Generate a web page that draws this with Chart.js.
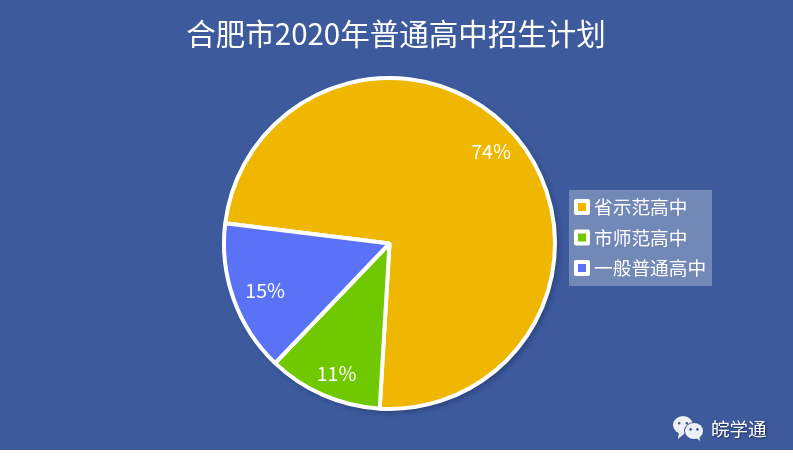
<!DOCTYPE html>
<html><head><meta charset="utf-8">
<script src="https://cdn.jsdelivr.net/npm/chart.js@4"></script>
<style>
html,body{margin:0;padding:0;background:#fff;overflow:hidden}
#wrap{position:relative;width:793px;height:450px;background:#3c5a9c}
canvas{position:absolute;left:0;top:0}
</style></head><body>
<div id="wrap"><canvas id="c" width="793" height="450"></canvas></div>
<script>
const titleText = "合肥市2020年普通高中招生计划";
const categories = ["省示范高中","市师范高中","一般普通高中"];
const values = [74,11.2,14.8];
const colors = ["#efb700","#70c800","#5a72f5"];
const watermark = "皖学通";
const FONT = '"Noto Sans CJK SC","Noto Sans",sans-serif';
const labelNudgeX = [-4,2,5];
const labelNudgeY = [-4,4,1];

const shadow = {
  id:'shadow',
  beforeDatasetsDraw(chart){
    const g=chart.ctx;g.save();
    g.shadowColor='rgba(10,20,60,0.3)';g.shadowBlur=5;g.shadowOffsetX=3;g.shadowOffsetY=3;
    const a=chart.getDatasetMeta(0).data[0];
    g.fillStyle='#fff';g.beginPath();g.arc(a.x,a.y,a.outerRadius+1,0,Math.PI*2);g.fill();
    g.restore();
  }
};

function bubble(g,cx,cy,rx,ry,tx,ty,fill,eye){
  g.fillStyle=fill;
  g.beginPath();g.ellipse(cx,cy,rx,ry,0,0,7);g.fill();
  g.beginPath();g.moveTo(tx,ty);g.lineTo(tx-Math.sign(tx-cx)*6,ty-5);g.lineTo(tx-Math.sign(tx-cx)*1,ty-7);g.closePath();g.fill();
  g.fillStyle=eye;
  g.beginPath();g.arc(cx-rx*0.38,cy-ry*0.2,1.3,0,7);g.arc(cx+rx*0.38,cy-ry*0.2,1.3,0,7);g.fill();
}

const overlay = {
  id:'overlay',
  afterDraw(chart){
    const g = chart.ctx, meta = chart.getDatasetMeta(0);
    g.save();
    g.textAlign='center'; g.textBaseline='middle'; g.fillStyle='#fff';
    g.font='29.5px '+FONT;
    g.fillText(titleText,396,34);
    g.font='19.5px '+FONT;
    meta.data.forEach((a,i)=>{
      const mid=(a.startAngle+a.endAngle)/2, r=a.outerRadius*0.83;
      g.fillText(Math.round(values[i])+'%',a.x+Math.cos(mid)*r+labelNudgeX[i],a.y+Math.sin(mid)*r+labelNudgeY[i]);
    });
    g.fillStyle='rgba(255,255,255,0.28)';
    g.fillRect(569,190,143,96);
    g.font='18.7px '+FONT; g.textAlign='left';
    categories.forEach((t,i)=>{
      const y=207+i*30.5;
      g.fillStyle='#fff'; g.beginPath(); g.roundRect(574,y-8,16,16,2); g.fill();
      g.fillStyle=colors[i]; g.fillRect(578,y-4,8,8);
      g.fillStyle='#fff'; g.fillText(t,594,y);
    });
    g.save();
    g.shadowColor='rgba(0,0,0,0.5)';g.shadowBlur=2;g.shadowOffsetX=1;g.shadowOffsetY=1;
    g.fillStyle='#fff';
    g.font='18.5px '+FONT;
    g.fillText(watermark,711,429);
    g.restore();
    bubble(g,683,425,10,9,678,439,'#eef0f6','#3c5a9c');
    g.fillStyle='#3c5a9c';g.beginPath();g.ellipse(694,431,10,9,0,0,7);g.fill();
    bubble(g,694,431,9,8,700,441,'#eef0f6','#3c5a9c');
    g.restore();
  }
};

new Chart(document.getElementById('c'),{
  type:'pie',
  data:{labels:categories,datasets:[{data:values,backgroundColor:colors,borderColor:'#fff',borderWidth:4,borderAlign:'center',hoverOffset:0}]},
  options:{
    responsive:false,animation:false,devicePixelRatio:1,
    rotation:-83,
    layout:{padding:{top:76,bottom:39,left:222,right:236}},
    plugins:{legend:{display:false},tooltip:{enabled:false},title:{display:false}}
  },
  plugins:[shadow,overlay]
});
</script>
</body></html>
